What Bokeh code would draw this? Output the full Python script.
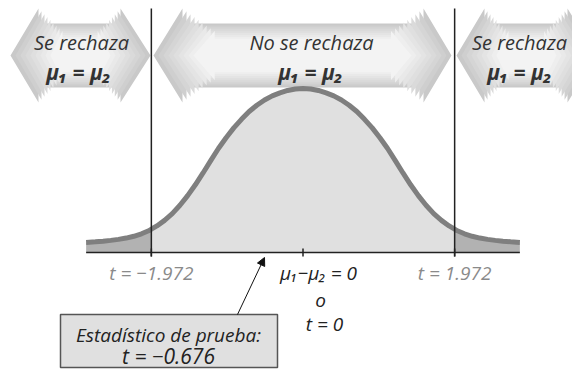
from bokeh.plotting import figure
from bokeh.models import Arrow, NormalHead
from bokeh.embed import file_html
from bokeh.resources import INLINE
from bokeh.core.properties import value

# ---------------- data ----------------
t_crit = 1.972
t_stat = -0.676
# half of the (symmetric) sampling distribution, heights relative to the peak
half_t = [0.0, 0.1, 0.2, 0.3, 0.4, 0.5, 0.6, 0.7, 0.8, 0.9, 1.0, 1.1, 1.2, 1.3,
          1.4, 1.5, 1.6, 1.7, 1.8, 1.9, 1.972, 2.0, 2.1, 2.2, 2.3, 2.4, 2.5,
          2.6, 2.7, 2.82]
half_h = [1.000, 0.997, 0.988, 0.973, 0.955, 0.930, 0.898, 0.860, 0.812, 0.760,
          0.700, 0.634, 0.560, 0.485, 0.413, 0.347, 0.288, 0.237, 0.196, 0.162,
          0.142, 0.134, 0.114, 0.099, 0.088, 0.080, 0.074, 0.069, 0.065, 0.061]
region_titles = ["Se rechaza", "No se rechaza", "Se rechaza"]
hyp_label = "\u03bc\u2081 = \u03bc\u2082"
crit_labels = ["t = \u22121.972", "t = 1.972"]
center_lines = ["\u03bc\u2081\u2212\u03bc\u2082 = 0", "o", "t = 0"]
stat_lines = ["Estad\u00edstico de prueba:", "t = \u22120.676"]

# ---------------- layout helpers (figure pixels -> data) ----------------
W, H = 572, 369
PX, PY = 76.9, 164.0
X_ZERO, Y_BASE = 302.5, 252.0
X0 = -X_ZERO / PX
X1 = X0 + W / PX
Y1 = Y_BASE / PY
Y0 = Y1 - H / PY


def dx(px):
    return (px - X_ZERO) / PX


def dy(py):
    return (Y_BASE - py) / PY


FONT = value("Open Sans")

p = figure(width=W, height=H, x_range=(X0, X1), y_range=(Y0, Y1),
           output_backend="svg", toolbar_location=None,
           x_axis_location=None, y_axis_location=None, min_border=0,
           outline_line_color=None, background_fill_color="white")
p.grid.visible = False

# ---------------- top double arrows (layered for a soft shading) ----------------
arrows_px = [(10, 38, 120, 150), (153, 182, 423, 451), (456, 484, 567, 596)]
y_mid, body_t, body_b, head_t, head_b = 55, 23, 87, 8, 102
shades = ["#c9c9c9", "#cfcfcf", "#d5d5d5", "#dadada", "#dfdfdf", "#e4e4e4",
          "#e9e9e9", "#eeeeee", "#f3f3f3"]
for (tl, bl, br, tr) in arrows_px:
    pts = [(tl, y_mid), (bl, head_t), (bl, body_t), (br, body_t), (br, head_t),
           (tr, y_mid), (br, head_b), (br, body_b), (bl, body_b), (bl, head_b)]
    cx = (tl + tr) / 2
    half_w = (tr - tl) / 2
    for k, col in enumerate(shades):
        shrink_x = k * 5.0
        sx = (half_w - shrink_x) / half_w
        sy = 1 - k * 0.06
        xs = [dx(cx + (x - cx) * sx) for x, _ in pts]
        ys = [dy(y_mid + (y - y_mid) * sy) for _, y in pts]
        p.patch(xs, ys, fill_color=col, line_color=None)

# ---------------- distribution ----------------
t_all = [-v for v in reversed(half_t)] + half_t[1:]
h_all = list(reversed(half_h)) + half_h[1:]
mid = [(t, h) for t, h in zip(t_all, h_all) if -t_crit <= t <= t_crit]
left = [(t, h) for t, h in zip(t_all, h_all) if t <= -t_crit]
right = [(t, h) for t, h in zip(t_all, h_all) if t >= t_crit]
p.varea(x=[a for a, _ in mid], y1=0, y2=[b for _, b in mid], fill_color="#e0e0e0")
for seg in (left, right):
    p.varea(x=[a for a, _ in seg], y1=0, y2=[b for _, b in seg], fill_color="#b2b2b2")
p.line(t_all, h_all, line_color="#7f7f7f", line_width=5)

# baseline and ticks
p.line([t_all[0], t_all[-1]], [0, 0], line_color="#222222", line_width=1.5)
tick = 4 / PY
p.segment(x0=[-t_crit, 0, t_crit], y0=[-tick] * 3, x1=[-t_crit, 0, t_crit], y1=[tick] * 3,
          line_color="#222222", line_width=1.5)
# critical-value lines
p.segment(x0=[-t_crit, t_crit], y0=[-tick] * 2, x1=[-t_crit, t_crit], y1=[dy(8)] * 2,
          line_color="#222222", line_width=1.5)

# ---------------- texts ----------------
title_x = [dx(81), dx(311), dx(519)]
hyp_x = [dx(78), dx(310), dx(519)]
p.text(x=title_x, y=[dy(42)] * 3, text=region_titles, text_font=FONT,
       text_font_style="italic", text_font_size="20px", text_color="#333333",
       text_align="center", text_baseline="middle")
p.text(x=hyp_x, y=[dy(71)] * 3, text=[hyp_label] * 3, text_font=FONT,
       text_font_style="bold italic", text_font_size="21px", text_color="#333333",
       text_align="center", text_baseline="middle")
p.text(x=[-t_crit, t_crit], y=[dy(272)] * 2, text=crit_labels, text_font=FONT,
       text_font_style="italic", text_font_size="19px", text_color="#8a8a8a",
       text_align="center", text_baseline="middle")
p.text(x=[dx(318), dx(320), dx(324)], y=[dy(272), dy(299), dy(323)], text=center_lines,
       text_font=FONT, text_font_style="italic", text_font_size="19px",
       text_color="#222222", text_align="center", text_baseline="middle")

# test-statistic box and pointer
p.quad(left=[dx(60)], right=[dx(277)], top=[dy(314)], bottom=[dy(367)],
       fill_color="#e0e0e0", line_color="#555555", line_width=1.5)
p.text(x=[dx(168)], y=[dy(334)], text=stat_lines[:1], text_font=FONT,
       text_font_style="italic", text_font_size="19px", text_color="#222222",
       text_align="center", text_baseline="middle")
p.text(x=[dx(168)], y=[dy(355)], text=stat_lines[1:], text_font=FONT,
       text_font_style="italic", text_font_size="21px", text_color="#222222",
       text_align="center", text_baseline="middle")
p.add_layout(Arrow(end=NormalHead(size=8, fill_color="#111111", line_color="#111111"),
                   x_start=dx(237), y_start=dy(314), x_end=dx(264), y_end=dy(257),
                   line_color="#111111", line_width=1))

open("out.html", "w").write(file_html(p, INLINE))
